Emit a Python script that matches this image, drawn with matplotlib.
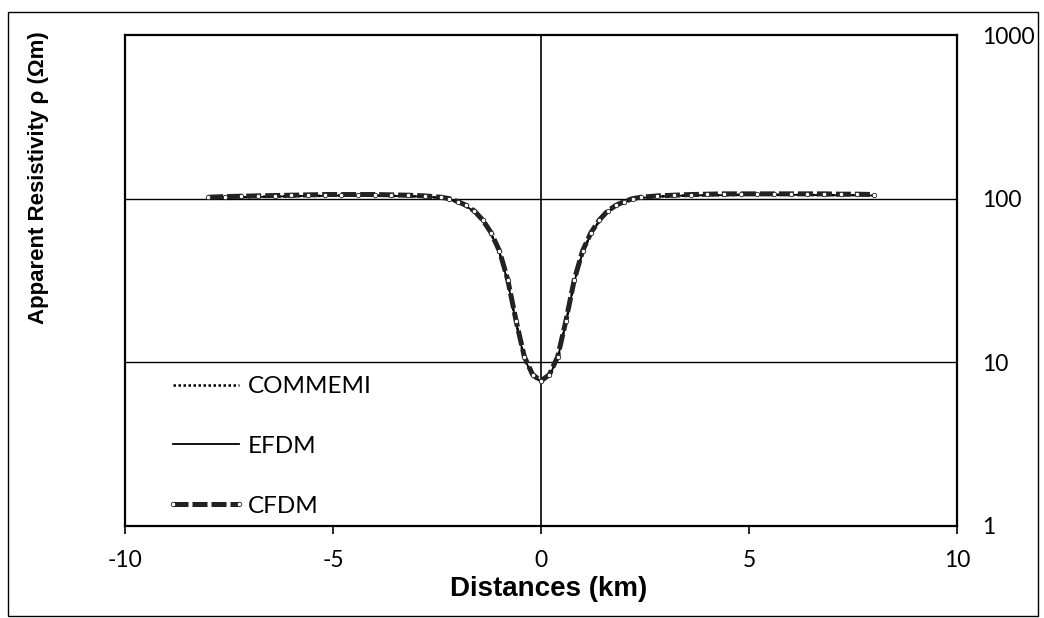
import matplotlib
matplotlib.use("Agg")
import matplotlib.pyplot as plt
from matplotlib.patches import Rectangle
from matplotlib.ticker import FixedLocator, FixedFormatter, NullLocator

plt.rcParams["axes.unicode_minus"] = False

# distances (km) and apparent resistivity (ohm m)
distance = [-8.0, -7.6, -7.2, -6.8, -6.4, -6.0, -5.6, -5.2, -4.8, -4.4,
            -4.0, -3.6, -3.2, -2.8,
            -2.4, -2.2, -2.0, -1.8, -1.6, -1.4, -1.2, -1.0, -0.8, -0.6,
            -0.4, -0.2, 0.0, 0.2, 0.4,
            0.6, 0.8, 1.0, 1.2, 1.4, 1.6, 1.8, 2.0, 2.2, 2.4,
            2.8, 3.2, 3.6, 4.0, 4.4, 4.8, 5.2, 5.6, 6.0, 6.4,
            6.8, 7.2, 7.6, 8.0]

commemi = [101, 101.5, 102, 102.5, 103, 103.5, 104, 104, 104.5, 104.5,
           104.5, 104, 103.5, 103,
           101, 99, 95, 90, 83, 73, 61, 47, 31, 17.5,
           10.5, 8.3, 7.6, 8.3, 10.5,
           17.5, 31, 47, 61, 73, 83, 90, 95, 99, 101,
           103, 104, 104.5, 105, 105, 105.5, 105.5, 105.5, 105.5, 105.5,
           105, 105, 105, 104.5]

efdm = [101, 101.5, 102, 102.5, 103, 103.5, 104, 104, 104.5, 104.5,
        104.5, 104, 103.5, 103,
        101, 99, 95, 90, 83, 73, 61, 47, 31, 17.5,
        10.5, 8.3, 7.6, 8.3, 10.5,
        17.5, 31, 47, 61, 73, 83, 90, 95, 99, 101,
        103, 104, 104.5, 105, 105, 105.5, 105.5, 105.5, 105.5, 105.5,
        105, 105, 105, 104.5]

cfdm = [102, 103, 103.5, 104, 104.5, 105, 105.5, 106, 106, 106,
        106, 105.5, 105, 104,
        102, 100, 96, 91, 84, 74, 62, 48, 32, 18,
        10.8, 8.4, 7.7, 8.4, 10.8,
        18, 32, 48, 62, 74, 84, 91, 96, 100, 102,
        104, 105, 106, 106.5, 107, 107, 107, 107, 107, 107,
        107, 106.5, 106.5, 106]

x_ticks = [-10, -5, 0, 5, 10]
y_ticks = [1, 10, 100, 1000]
y_labels = ["1", "10", "100", "1000"]

W, H = 1044, 618
fig = plt.figure(figsize=(W / 100, H / 100), dpi=100)
ax = fig.add_axes([125 / W, 1 - 526 / H, 832 / W, 491 / H])

ax.plot(distance, commemi, color="black", lw=1.8, ls=(0, (1, 1)),
        label="COMMEMI", zorder=3)
ax.plot(distance, efdm, color="black", lw=1.3, ls="-", label="EFDM",
        zorder=4)
ax.plot(distance, cfdm, color="#222222", lw=3.6, ls=(0, (3, 0.8)),
        marker="o", ms=3.2, mfc="white", mec="#222222", mew=0.6,
        label="CFDM", zorder=5)

ax.set_yscale("log")
ax.set_xlim(-10, 10)
ax.set_ylim(1, 1000)

ax.yaxis.tick_right()
ax.yaxis.set_major_locator(FixedLocator(y_ticks))
ax.yaxis.set_major_formatter(FixedFormatter(y_labels))
ax.yaxis.set_minor_locator(NullLocator())
ax.set_xticks(x_ticks)
ax.set_xticklabels([str(v) for v in x_ticks])

for t in ax.get_xticklabels() + ax.get_yticklabels():
    t.set_family("Lato")
    t.set_fontsize(16.5)
ax.tick_params(axis="x", direction="out", length=6, width=1.2, pad=11)
ax.tick_params(axis="y", direction="out", length=0, pad=18)

for s in ax.spines.values():
    s.set_linewidth(1.6)
    s.set_color("black")

# gridlines and the vertical axis line at x = 0
for yv in [10, 100]:
    ax.axhline(yv, color="black", lw=1.0, zorder=1)
ax.axvline(0, color="black", lw=1.2, zorder=1)

leg = ax.legend(loc="upper left", bbox_to_anchor=(166 / W, 1 - 376 / H),
                bbox_transform=fig.transFigure, frameon=False,
                prop={"family": "Lato", "size": 17.5}, handlelength=3.3,
                handletextpad=0.05, labelspacing=1.6, numpoints=2,
                borderpad=0, borderaxespad=0)

fig.text(549 / W, 1 - 589 / H, "Distances (km)", ha="center", va="center",
         family="Liberation Sans", weight="bold", fontsize=20)
fig.text(39 / W, 1 - 178 / H, "Apparent Resistivity \u03c1 (\u03a9m)",
         ha="center", va="center", rotation=90,
         family="Liberation Sans", weight="bold", fontsize=16)

# chart area border
fig.patches.append(Rectangle((8 / W, 2 / H), 1030 / W, 604 / H,
                             transform=fig.transFigure, fill=False,
                             edgecolor="black", lw=1.0))

fig.savefig("out.png", dpi=100)
